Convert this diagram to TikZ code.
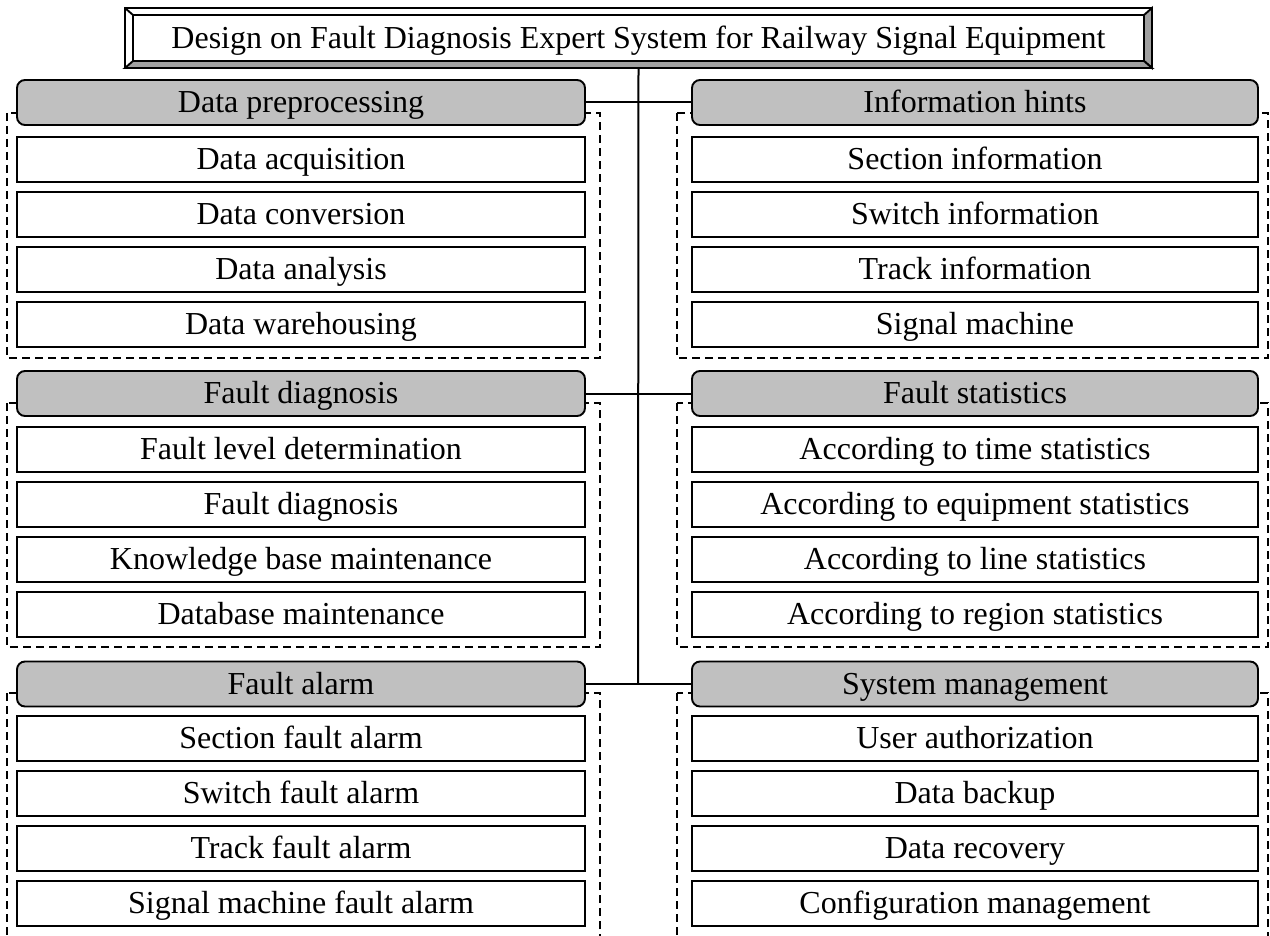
\documentclass[tikz,border=0pt]{standalone}
\usepackage{fontspec}
\setmainfont{Liberation Serif}
\usetikzlibrary{calc}
\definecolor{hgray}{HTML}{C0C0C0}
\definecolor{bgray}{HTML}{A0A0A0}
\begin{document}
\begin{tikzpicture}[x=1pt,y=-1pt,
  every node/.style={font=\fontsize{32}{38}\selectfont, inner sep=0pt, text height=20pt, text depth=0pt},
  item/.style={draw, line width=1.9pt, fill=white, minimum height=45pt},
  lw/.style={minimum width=568pt},
  rw/.style={minimum width=566pt},
  head/.style={draw, line width=1.9pt, fill=hgray, rounded corners=8pt, minimum height=45pt},
  grp/.style={draw, line width=1.5pt, dash pattern=on 8pt off 5pt},
  conn/.style={line width=2pt},
  bevel/.style={draw, line width=1.9pt, line join=miter}]
\useasboundingbox (0,0) rectangle (1270,936);
\clip (0,0) rectangle (1270,936);

% dashed group frames
\draw[grp] (7,113) rectangle (600,358);
\draw[grp] (7,403) rectangle (600,647);
\draw[grp] (7,693) rectangle (600,950);
\draw[grp] (677,113) rectangle (1268,358);
\draw[grp] (677,403) rectangle (1268,647);
\draw[grp] (677,693) rectangle (1268,950);

% title box with bevel
\node (title) at (638.5,38) [minimum width=1027pt, minimum height=60pt] {};
\fill[white] (125,8) rectangle (1152,68);
\filldraw[bevel, fill=bgray] (1152,8) -- (1152,68) -- (1144,61) -- (1144,15) -- cycle;
\filldraw[bevel, fill=bgray] (125,68) -- (1152,68) -- (1144,61) -- (133,61) -- cycle;
\draw[bevel] (125,8) -- (133,15);
\draw[bevel] (125,8) rectangle (1152,68);
\draw[bevel] (133,15) rectangle (1144,61);
\node at ($(title.center)+(0,1)$) {Design on Fault Diagnosis Expert System for Railway Signal Equipment};

% connectors
\coordinate (trunkend) at (638,684);
\draw[conn] (title.south) -- (trunkend);

% headers
\node[head,lw] (h1) at (301,102.5) {Data preprocessing};
\node[head,lw] (h2) at (301,393.5) {Fault diagnosis};
\node[head,lw] (h3) at (301,684) {Fault alarm};
\node[head,rw] (h4) at (975,102.5) {Information hints};
\node[head,rw] (h5) at (975,393.5) {Fault statistics};
\node[head,rw] (h6) at (975,684) {System management};

\draw[conn] (h1.east) -- (h4.west);
\draw[conn] (h2.east) -- (h5.west);
\draw[conn] (h3.east) -- (h6.west);

% left items
\node[item,lw] (a1) at (301,159.5) {Data acquisition};
\node[item,lw] (a2) at (301,214.5) {Data conversion};
\node[item,lw] (a3) at (301,269.5) {Data analysis};
\node[item,lw] (a4) at (301,324.5) {Data warehousing};

\node[item,lw] (b1) at (301,449.5) {Fault level determination};
\node[item,lw] (b2) at (301,504.5) {Fault diagnosis};
\node[item,lw] (b3) at (301,559.5) {Knowledge base maintenance};
\node[item,lw] (b4) at (301,614.5) {Database maintenance};

\node[item,lw] (c1) at (301,738.5) {Section fault alarm};
\node[item,lw] (c2) at (301,793.5) {Switch fault alarm};
\node[item,lw] (c3) at (301,848.5) {Track fault alarm};
\node[item,lw] (c4) at (301,903.5) {Signal machine fault alarm};

% right items
\node[item,rw] (d1) at (975,159.5) {Section information};
\node[item,rw] (d2) at (975,214.5) {Switch information};
\node[item,rw] (d3) at (975,269.5) {Track information};
\node[item,rw] (d4) at (975,324.5) {Signal machine};

\node[item,rw] (e1) at (975,449.5) {According to time statistics};
\node[item,rw] (e2) at (975,504.5) {According to equipment statistics};
\node[item,rw] (e3) at (975,559.5) {According to line statistics};
\node[item,rw] (e4) at (975,614.5) {According to region statistics};

\node[item,rw] (f1) at (975,738.5) {User authorization};
\node[item,rw] (f2) at (975,793.5) {Data backup};
\node[item,rw] (f3) at (975,848.5) {Data recovery};
\node[item,rw] (f4) at (975,903.5) {Configuration management};
\end{tikzpicture}
\end{document}
